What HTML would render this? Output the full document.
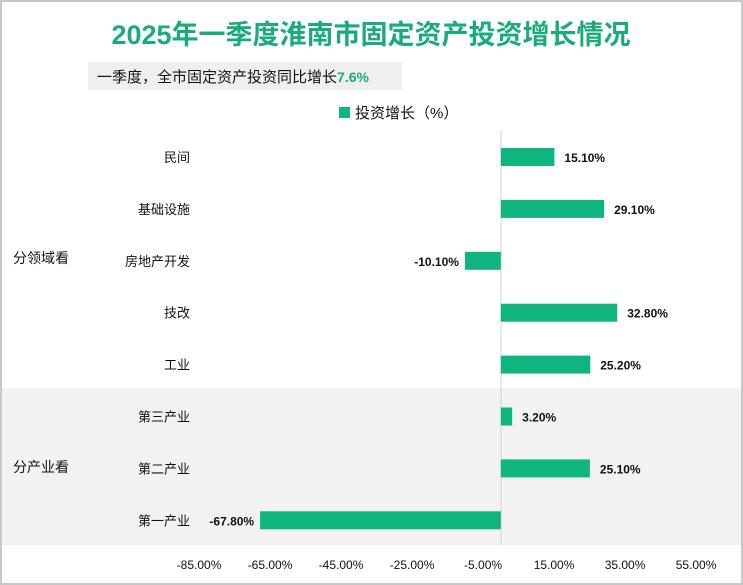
<!DOCTYPE html>
<html><head><meta charset="utf-8"><style>
body{margin:0;background:#fff;}
svg{display:block;font-family:"Liberation Sans","Noto Sans CJK SC",sans-serif;}
</style></head><body>
<svg id="c" width="743" height="585">
<rect x="1" y="1" width="741" height="583" fill="#fff" stroke="#c8c8c8" stroke-width="2"/>
<rect x="2" y="388" width="739" height="157" fill="#f2f2f2"/>
<text x="371" y="44" text-anchor="middle" font-size="27" font-weight="bold" fill="#19ac7a">2025年一季度淮南市固定资产投资增长情况</text>
<rect x="88" y="62" width="314" height="28" fill="#efefef"/>
<text x="97" y="82" font-size="15" fill="#111">一季度，全市固定资产投资同比增长<tspan fill="#19ac7a" font-weight="bold" font-size="14">7.6%</tspan></text>
<rect x="339" y="107" width="11" height="11" fill="#10b47f"/>
<text x="355" y="118" font-size="15" fill="#111">投资增长（%）</text>
<line x1="501" y1="130" x2="501" y2="545" stroke="#d0d0d0"/>
<text x="13" y="263" font-size="14" fill="#111">分领域看</text>
<text x="13" y="472" font-size="14" fill="#111">分产业看</text>
<g id="bars"></g><g id="ticks"></g>
</svg>
<script>
const categories=["民间","基础设施","房地产开发","技改","工业","第三产业","第二产业","第一产业"];
const values=[15.10,29.10,-10.10,32.80,25.20,3.20,25.10,-67.80];
const tickLabels=["-85.00%","-65.00%","-45.00%","-25.00%","-5.00%","15.00%","35.00%","55.00%"];
const tickValues=[-85,-65,-45,-25,-5,15,35,55];
const svg=document.getElementById('c'),NS="http://www.w3.org/2000/svg";
const x=v=>500.8+v*3.55;
const y=i=>157+i*51.9;
function mk(t,a,p){const e=document.createElementNS(NS,t);for(const k in a)e.setAttribute(k,a[k]);p.appendChild(e);return e;}
const gb=document.getElementById('bars'),gt=document.getElementById('ticks');
categories.forEach((c,i)=>{
 const v=values[i],cy=y(i);
 const r=mk('rect',{x:Math.min(x(0),x(v)),y:cy-9,width:Math.abs(x(v)-x(0)),height:18,fill:'#10b47f'},gb);
 
 
 const l=mk('text',{x:190,y:cy+5,'text-anchor':'end','font-size':13,fill:'#111'},gb);l.textContent=c;
 
 
 const vl=mk('text',{x:v>=0?x(v)+10:x(v)-6,y:cy+5,'text-anchor':v>=0?'start':'end','font-size':12,'font-weight':'bold',fill:'#111'},gb);
 vl.textContent=v.toFixed(2)+'%';
 
 
});
tickValues.forEach((t,i)=>{
 const tl=mk('text',{x:x(t),y:569,'text-anchor':'middle','font-size':12,fill:'#111'},gt);tl.textContent=tickLabels[i];
 
 
});
</script>
</body></html>
